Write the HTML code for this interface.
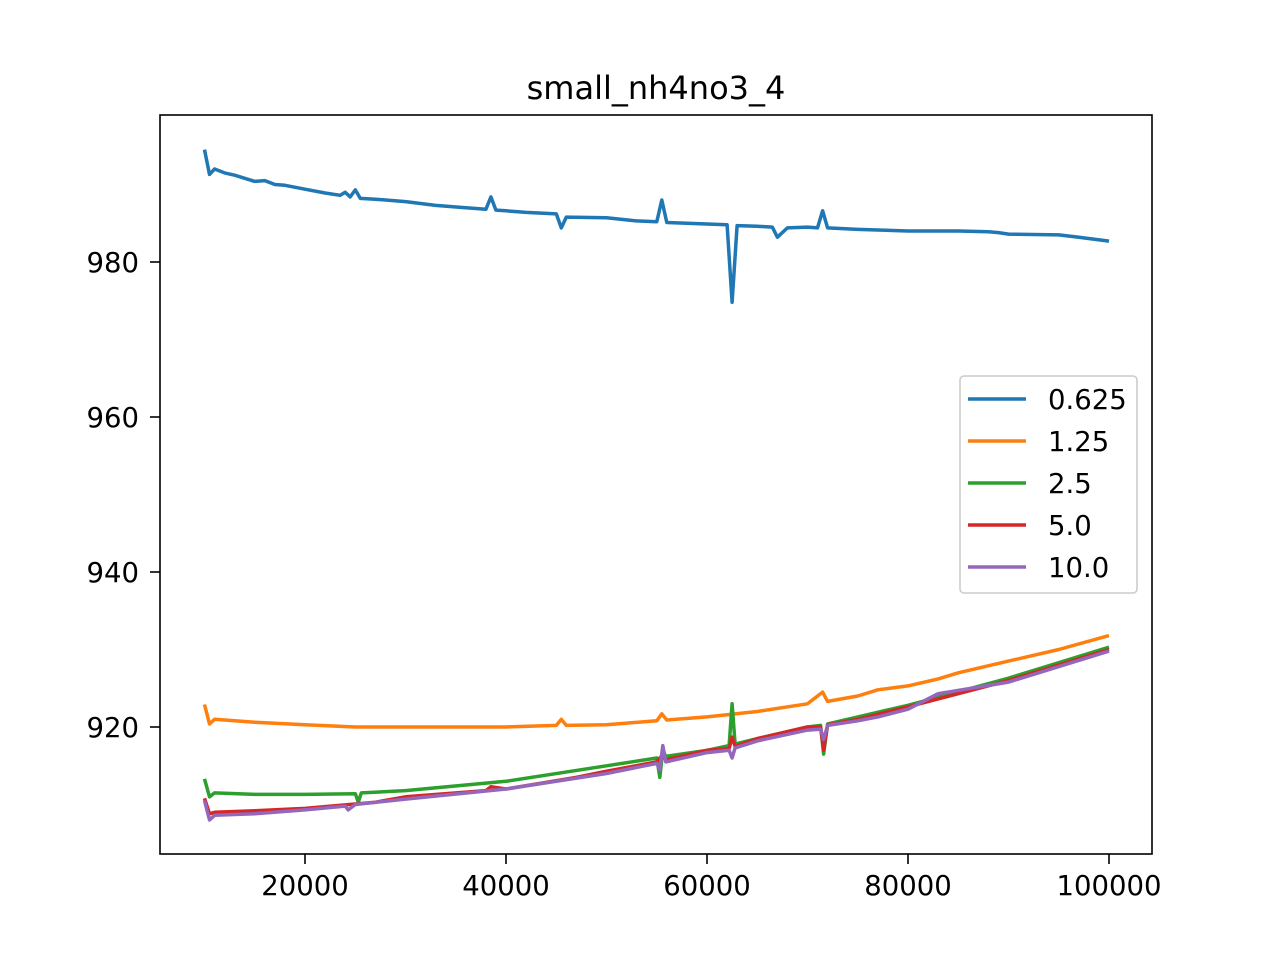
<!DOCTYPE html>
<html><head><meta charset="utf-8"><style>
html,body{margin:0;padding:0;background:#fff}
svg text{font-family:"DejaVu Sans","Liberation Sans",sans-serif;fill:#000}
</style></head><body>
<svg id="chart" width="1280" height="960" xmlns="http://www.w3.org/2000/svg">
<rect x="0" y="0" width="1280" height="960" fill="#fff"/>
<text x="656" y="99" font-size="32" text-anchor="middle">small_nh4no3_4</text>
<g id="series"></g>
<rect x="160" y="115" width="992" height="739" fill="none" stroke="#000" stroke-width="1.6"/>
<g id="xticks"></g>
<g id="yticks"></g>
<g id="legend"></g>
</svg>
<script>
const xTicks=[20000,40000,60000,80000,100000];
const yTicks=[920,940,960,980];
const seriesNames=["0.625","1.25","2.5","5.0","10.0"];
const colors=["#1f77b4","#ff7f0e","#2ca02c","#d62728","#9467bd"];
const blueX=[10000,10500,11000,12000,13000,14000,15000,16000,17000,18000,20000,22000,23500,24000,24500,25000,25500,27000,30000,33000,36000,38000,38500,39000,40000,42000,45000,45500,46000,50000,53000,55000,55500,56000,58000,60000,62000,62500,63000,65000,66500,67000,68000,70000,71000,71500,72000,75000,80000,85000,88000,89000,90000,95000,97000,100000];
const blueY=[994.5,991.3,992,991.5,991.2,990.8,990.4,990.5,990,989.9,989.4,988.9,988.6,989,988.4,989.3,988.2,988.1,987.8,987.3,987,986.8,988.4,986.7,986.6,986.4,986.2,984.4,985.8,985.7,985.3,985.2,988,985.1,985,984.9,984.8,974.8,984.7,984.6,984.5,983.2,984.4,984.5,984.4,986.6,984.4,984.2,984,984,983.9,983.8,983.6,983.5,983.2,982.7];
const orangeX=[10000,10500,11000,15000,20000,25000,30000,40000,45000,45500,46000,50000,55000,55500,56000,60000,65000,70000,71500,72000,75000,77000,80000,83000,85000,90000,95000,100000];
const orangeY=[922.9,920.4,921,920.6,920.3,920,920,920,920.2,921,920.2,920.3,920.8,921.7,920.9,921.3,922,923,924.5,923.3,924,924.8,925.3,926.2,927,928.5,930,931.8];
const greenX=[10000,10500,11000,15000,20000,25000,25300,25600,30000,40000,50000,55000,55300,55600,55900,60000,62200,62500,62800,65000,70000,71300,71600,72000,75000,80000,90000,100000];
const greenY=[913.3,911,911.5,911.3,911.3,911.4,910.3,911.5,911.8,913,915,916,913.5,917,916.2,917,917.6,923,917.8,918.5,920,920.2,916.5,920.4,921.3,922.8,926.3,930.3];
const redX=[10000,10500,11000,15000,20000,27000,30000,38000,38500,40000,47000,50000,55000,55500,56000,60000,62200,62500,62800,65000,70000,71300,71600,72000,75000,80000,90000,100000];
const redY=[910.8,908.8,909,909.2,909.5,910.3,911,911.8,912.3,912,913.5,914.3,915.5,916.3,915.8,917,917.2,918.7,917.5,918.5,920,920,917,920.3,921,922.6,926,930];
const purpleX=[10000,10500,11000,15000,20000,24000,24300,25000,30000,40000,50000,55000,55300,55600,55900,60000,62200,62500,62800,65000,70000,71300,71600,72000,75000,77000,80000,83000,90000,100000];
const purpleY=[910.5,908,908.6,908.8,909.3,909.8,909.3,910,910.7,912,914,915.3,914.5,917.6,915.5,916.7,917,916,917.3,918.2,919.6,919.7,918.4,920.2,920.8,921.3,922.3,924.3,925.8,929.8];
const allX=[blueX,orangeX,greenX,redX,purpleX];
const allY=[blueY,orangeY,greenY,redY,purpleY];
const xs=v=>305+(v-20000)*804/80000;
const ys=v=>727-(v-920)*7.75;
const NS="http://www.w3.org/2000/svg";
const sg=document.getElementById('series');
allX.forEach((xa,i)=>{
  const p=document.createElementNS(NS,'polyline');
  p.setAttribute('points',xa.map((x,j)=>xs(x).toFixed(1)+','+ys(allY[i][j]).toFixed(1)).join(' '));
  p.setAttribute('fill','none');p.setAttribute('stroke',colors[i]);p.setAttribute('stroke-width','3.5');p.setAttribute('stroke-linejoin','round');
  
  
  sg.appendChild(p);
});
const xg=document.getElementById('xticks');
xTicks.forEach(t=>{
  const X=xs(t);
  const l=document.createElementNS(NS,'line');
  l.setAttribute('x1',X);l.setAttribute('x2',X);l.setAttribute('y1',854);l.setAttribute('y2',864);l.setAttribute('stroke','#000');l.setAttribute('stroke-width','1.6');
  
  
  xg.appendChild(l);
  const tx=document.createElementNS(NS,'text');
  tx.setAttribute('x',X);tx.setAttribute('y',895);tx.setAttribute('font-size','27.5');tx.setAttribute('text-anchor','middle');
  tx.textContent=t;
  
  
  xg.appendChild(tx);
});
const yg=document.getElementById('yticks');
yTicks.forEach(t=>{
  const Y=ys(t);
  const l=document.createElementNS(NS,'line');
  l.setAttribute('x1',150);l.setAttribute('x2',160);l.setAttribute('y1',Y);l.setAttribute('y2',Y);l.setAttribute('stroke','#000');l.setAttribute('stroke-width','1.6');
  
  
  yg.appendChild(l);
  const tx=document.createElementNS(NS,'text');
  tx.setAttribute('x',139);tx.setAttribute('y',Y+10);tx.setAttribute('font-size','27.5');tx.setAttribute('text-anchor','end');
  tx.textContent=t;
  
  
  yg.appendChild(tx);
});
const lg=document.getElementById('legend');
const box=document.createElementNS(NS,'rect');
box.setAttribute('x',960);box.setAttribute('y',376);box.setAttribute('width',177);box.setAttribute('height',217);box.setAttribute('rx',4);
box.setAttribute('fill','#fff');box.setAttribute('fill-opacity','0.8');box.setAttribute('stroke','#ccc');box.setAttribute('stroke-width','1.6');


lg.appendChild(box);
seriesNames.forEach((n,i)=>{
  const Y=399+i*42;
  const l=document.createElementNS(NS,'line');
  l.setAttribute('x1',968);l.setAttribute('x2',1026);l.setAttribute('y1',Y);l.setAttribute('y2',Y);l.setAttribute('stroke',colors[i]);l.setAttribute('stroke-width','3.5');
  
  
  lg.appendChild(l);
  const tx=document.createElementNS(NS,'text');
  tx.setAttribute('x',1048);tx.setAttribute('y',Y+10);tx.setAttribute('font-size','27.5');
  tx.textContent=n;
  
  
  lg.appendChild(tx);
});
</script>
</body></html>
